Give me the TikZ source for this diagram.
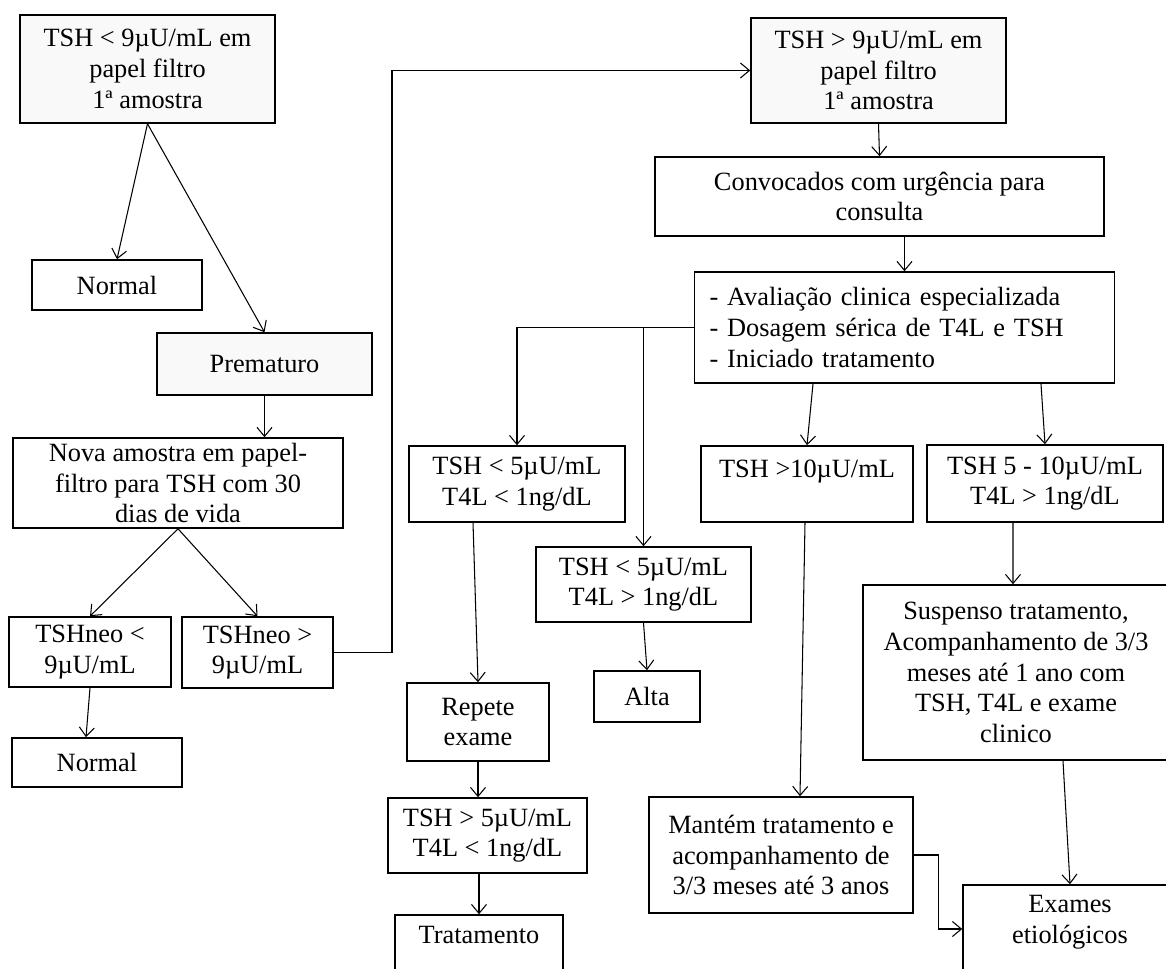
\documentclass[tikz,border=0pt]{standalone}
\usepackage{fontspec}
\setmainfont{Liberation Serif}
\usetikzlibrary{arrows.meta}

\begin{document}
\begin{tikzpicture}[x=0.02cm, y=-0.02cm,
  caixa/.style={draw, line width=0.9pt, align=center, inner sep=2pt, font=\fontsize{15}{17.5}\selectfont},
  flecha/.style={line width=0.6pt, -{Straight Barb[length=1.8mm,width=3mm]}}]
\useasboundingbox (0,0) rectangle (1166,969);
\clip (0,0) rectangle (1166,969);

\node[caixa, minimum width=5.1cm, minimum height=2.16cm, fill=gray!5] (tsha) at (147.5,69) {TSH < 9µU/mL em\\papel filtro\\1ª amostra};
\node[caixa, minimum width=3.4cm, minimum height=1cm] (normala) at (117,285) {Normal};
\node[caixa, minimum width=4.3cm, minimum height=1.24cm, fill=gray!5] (prem) at (264.5,364) {Prematuro};
\node[caixa, minimum width=6.6cm, minimum height=1.8cm] (nova) at (178,483) {Nova amostra em papel-\\filtro para TSH com 30\\dias de vida};
\node[caixa, minimum width=3.24cm, minimum height=1.4cm] (neoa) at (90,652) {TSHneo <\\9µU/mL};
\node[caixa, minimum width=3.02cm, minimum height=1.42cm] (neob) at (257.5,652.5) {TSHneo >\\9µU/mL};
\node[caixa, minimum width=3.4cm, minimum height=0.98cm] (normalb) at (97,762.5) {Normal};

\node[caixa, minimum width=5.1cm, minimum height=2.1cm, fill=gray!5] (tshb) at (878.5,70.5) {TSH > 9µU/mL em\\papel filtro\\1ª amostra};
\node[caixa, minimum width=8.98cm, minimum height=1.58cm] (conv) at (879.5,196.5) {Convocados com urgência para\\consulta};
\node[caixa, align=left, text width=7.8cm, inner xsep=0.3cm, minimum height=2.22cm] (aval) at (904.5,327.5) {- Avaliação clinica especializada\\- Dosagem sérica de T4L e TSH\\- Iniciado tratamento};
\node[caixa, minimum width=4.32cm, minimum height=1.52cm] (cinco1) at (517,484) {TSH < 5µU/mL\\T4L < 1ng/dL};
\node[caixa, minimum width=4.3cm, minimum height=1.5cm] (cinco2) at (643.5,584.5) {TSH < 5µU/mL\\T4L > 1ng/dL};
\node[caixa, minimum width=4.24cm, minimum height=1.52cm] (dez) at (807,484) {TSH >10µU/mL\\~};
\node[caixa, minimum width=4.72cm, minimum height=1.54cm] (cincodez) at (1045,483.5) {TSH 5 - 10µU/mL\\T4L > 1ng/dL};
\node[caixa, minimum width=2.12cm, minimum height=1.02cm] (alta) at (647,696.5) {Alta};
\node[caixa, minimum width=2.84cm, minimum height=1.56cm] (repete) at (478,722) {Repete\\exame};
\node[caixa, minimum width=3.98cm, minimum height=1.5cm] (tshc) at (487.5,835.5) {TSH > 5µU/mL\\T4L < 1ng/dL};
\node[caixa, minimum width=3.36cm, minimum height=1.4cm] (trat) at (479,950) {Tratamento\\~};
\node[caixa, minimum width=6.12cm, minimum height=3.5cm] (susp) at (1016,672.5) {Suspenso tratamento,\\Acompanhamento de 3/3\\meses até 1 ano com\\TSH, T4L e exame\\clinico};
\node[caixa, minimum width=5.28cm, minimum height=2.32cm] (mant) at (781,855) {Mantém tratamento e\\acompanhamento de\\3/3 meses até 3 anos};
\node[caixa, minimum width=4.28cm, minimum height=2cm] (exam) at (1070,935) {Exames\\etiológicos\\~};

\coordinate (volta) at (392,652.5);

\draw[flecha] (tsha.south) -- (normala.north);
\draw[flecha] (tsha.south) -- (prem.north);
\draw[flecha] (prem.south) -- (prem.south |- nova.north);
\draw[flecha] (nova.south) -- (neoa.north);
\draw[flecha] (nova.south) -- (neob.north);
\draw[flecha] (neoa.south) -- ([xshift=-0.22cm]normalb.north);
\draw[flecha] (neob.east) -- (volta) |- (tshb.west);
\draw[flecha] (tshb.south) -- (conv.north);
\draw[flecha] (conv.south -| aval.north) -- (aval.north);
\draw[flecha] (aval.west) -| (cinco1.north);
\draw[flecha] (aval.west -| cinco2.north) -- (cinco2.north);
\draw[flecha] ([xshift=-1.83cm]aval.south) -- (dez.north);
\draw[flecha] ([xshift=2.73cm]aval.south) -- (cincodez.north);
\draw[flecha] ([xshift=-0.88cm]cinco1.south) -- (repete.north);
\draw[flecha] (cinco2.south) -- (alta.north);
\draw[flecha] (repete.south) -- (repete.south |- tshc.north);
\draw[flecha] (tshc.south -| trat.north) -- (trat.north);
\draw[flecha] ([xshift=-0.04cm]dez.south) -- ([xshift=0.38cm]mant.north);
\draw[flecha] ([xshift=-0.64cm]cincodez.south) -- ([xshift=-0.06cm]susp.north);
\draw[flecha] ([xshift=0.94cm]susp.south) -- (exam.north);
\draw[flecha] (mant.east) -- ++(25,0) |- ([yshift=0.12cm]exam.west);
\end{tikzpicture}
\end{document}
